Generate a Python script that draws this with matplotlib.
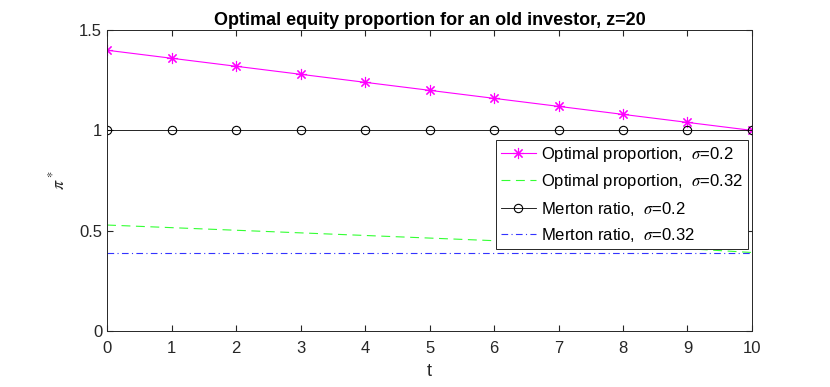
import matplotlib
matplotlib.use("Agg")
import matplotlib.pyplot as plt

t = list(range(11))
opt_02 = [1.40, 1.36, 1.32, 1.28, 1.24, 1.20, 1.16, 1.12, 1.08, 1.04, 1.00]
opt_032 = [0.528, 0.515, 0.502, 0.489, 0.476, 0.463, 0.450, 0.437, 0.424, 0.410, 0.391]
merton_02 = [1.0] * 11
merton_032 = [0.390625] * 11

plt.rcParams["font.family"] = ["Liberation Sans", "DejaVu Sans"]
plt.rcParams["mathtext.fontset"] = "stix"

fig = plt.figure(figsize=(8.3, 3.87), dpi=100)
ax = fig.add_axes([0.129, 0.145, 0.777, 0.777])

ax.plot(t, opt_02, color="#ff00ff", lw=0.8, marker=(8, 2, 0), ms=8, mew=0.8,
        label=r"Optimal proportion,  $\sigma$=0.2")
ax.plot(t, opt_032, color="#33ff33", lw=0.8, ls=(0, (8, 5)),
        label=r"Optimal proportion,  $\sigma$=0.32")
ax.plot(t, merton_02, color="black", lw=0.6, marker="o", ms=6, mfc="none", mew=0.8,
        label=r"Merton ratio,  $\sigma$=0.2")
ax.plot(t, merton_032, color="#3333ff", lw=0.8, ls=(0, (6, 3, 1, 3)),
        label=r"Merton ratio,  $\sigma$=0.32")

ax.set_xlim(0, 10)
ax.set_ylim(0, 1.5)
ax.set_xticks(t)
ax.set_yticks([0, 0.5, 1, 1.5])
ax.set_yticklabels(["0", "0.5", "1", "1.5"])
ax.tick_params(direction="in", length=4, labelsize=12, colors="#262626", top=True, right=True)
ax.tick_params(axis="x", pad=7)
for s in ax.spines.values():
    s.set_color("#262626")
    s.set_linewidth(0.7)

ax.set_xlabel("t", fontsize=13, color="#262626", labelpad=5)
ax.set_ylabel(r"$\pi^*$", fontsize=13, color="#262626", labelpad=8)
ax.set_title("Optimal equity proportion for an old investor, z=20", fontsize=13,
             fontweight="bold", pad=4)

leg = ax.legend(loc="upper right", bbox_to_anchor=(0.994, 0.635), fontsize=12,
                frameon=True, fancybox=False, edgecolor="#262626", framealpha=1,
                borderaxespad=0, handlelength=2.1, handletextpad=0.3,
                labelspacing=0.5, borderpad=0.3)
leg.get_frame().set_linewidth(0.7)

fig.savefig("out.png", dpi=100)
